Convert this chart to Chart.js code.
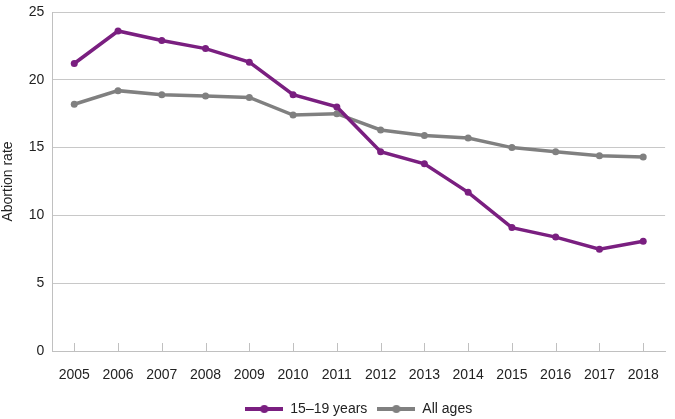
<!DOCTYPE html>
<html>
<head>
<meta charset="utf-8">
<script src="https://cdn.jsdelivr.net/npm/chart.js@4.4.0/dist/chart.umd.min.js"></script>
<style>
  html, body { margin: 0; padding: 0; background: #fff; }
  #wrap { width: 675px; height: 419px; }
</style>
</head>
<body>
<div id="wrap"><canvas id="chart"></canvas></div>
<script>
const years = ['2005', '2006', '2007', '2008', '2009', '2010', '2011', '2012', '2013', '2014', '2015', '2016', '2017', '2018'];
const teens = [21.2, 23.6, 22.9, 22.3, 21.3, 18.9, 18.0, 14.7, 13.8, 11.7, 9.1, 8.4, 7.5, 8.1];
const allAges = [18.2, 19.2, 18.9, 18.8, 18.7, 17.4, 17.5, 16.3, 15.9, 15.7, 15.0, 14.7, 14.4, 14.3];

const purple = '#7a1f80';
const grey = '#808080';

// little line-with-dot swatch for the legend
function swatch(color) {
    const c = document.createElement('canvas');
    c.width = 38; c.height = 10;
    const ctx = c.getContext('2d');
    ctx.strokeStyle = color;
    ctx.lineWidth = 4;
    ctx.beginPath();
    ctx.moveTo(0, 5);
    ctx.lineTo(38, 5);
    ctx.stroke();
    ctx.fillStyle = color;
    ctx.beginPath();
    ctx.arc(19, 5, 4, 0, Math.PI * 2);
    ctx.fill();
    return c;
}

// tick marks pointing up into the plot from the x axis
const innerTicks = {
    id: 'innerTicks',
    afterDraw(chart) {
        const x = chart.scales.x;
        const ctx = chart.ctx;
        ctx.save();
        ctx.strokeStyle = '#c0c0c0';
        ctx.lineWidth = 1;
        x.ticks.forEach((t, i) => {
            const px = Math.round(x.getPixelForTick(i)) + 0.5;
            ctx.beginPath();
            ctx.moveTo(px, x.top);
            ctx.lineTo(px, x.top - 8);
            ctx.stroke();
        });
        ctx.restore();
    }
};

Chart.defaults.font.family = 'Arial, "Liberation Sans", sans-serif';
Chart.defaults.color = '#222';

new Chart(document.getElementById('chart'), {
    type: 'line',
    data: {
        labels: years,
        datasets: [
            {
                label: '15\u201319 years',
                data: teens,
                borderColor: purple,
                backgroundColor: purple,
                borderWidth: 3.5,
                pointRadius: 3.5,
                pointBackgroundColor: purple,
                pointBorderWidth: 0,
                tension: 0
            },
            {
                label: 'All ages',
                data: allAges,
                borderColor: grey,
                backgroundColor: grey,
                borderWidth: 3.5,
                pointRadius: 3.5,
                pointBackgroundColor: grey,
                pointBorderWidth: 0,
                tension: 0
            }
        ]
    },
    options: {
        responsive: true,
        maintainAspectRatio: false,
        animation: false,
        layout: { padding: { left: 0, right: 6, top: 0, bottom: -7 } },
        plugins: {
            legend: {
                position: 'bottom',
                fullSize: false,
                labels: {
                    usePointStyle: true,
                    pointStyleWidth: 38,
                    boxHeight: 10,
                    font: { size: 14 },
                    color: '#222',
                    padding: 10,
                    generateLabels(chart) {
                        return chart.data.datasets.map((ds, i) => ({
                            text: ds.label,
                            pointStyle: swatch(ds.borderColor),
                            fillStyle: ds.borderColor,
                            strokeStyle: ds.borderColor,
                            lineWidth: 0,
                            hidden: false,
                            datasetIndex: i,
                            fontColor: '#222'
                        }));
                    }
                }
            },
            tooltip: { enabled: false }
        },
        scales: {
            x: {
                offset: true,
                afterFit(scale) { scale.height = 41; },
                grid: { display: false, drawTicks: false },
                border: { display: true, color: '#c0c0c0', width: 1 },
                ticks: { font: { size: 14 }, color: '#222', padding: 16, maxRotation: 0, autoSkip: false }
            },
            y: {
                min: 0,
                max: 25,
                afterFit(scale) { scale.paddingTop = 12; },
                grid: { color: '#c8c8c8', drawTicks: false },
                border: { display: true, color: '#c0c0c0', width: 1 },
                ticks: { stepSize: 5, font: { size: 14 }, color: '#222', padding: 8 },
                title: { display: true, text: 'Abortion rate', font: { size: 14 }, color: '#222', padding: { top: 0, bottom: 4 } }
            }
        }
    },
    plugins: [innerTicks]
});
</script>
</body>
</html>
